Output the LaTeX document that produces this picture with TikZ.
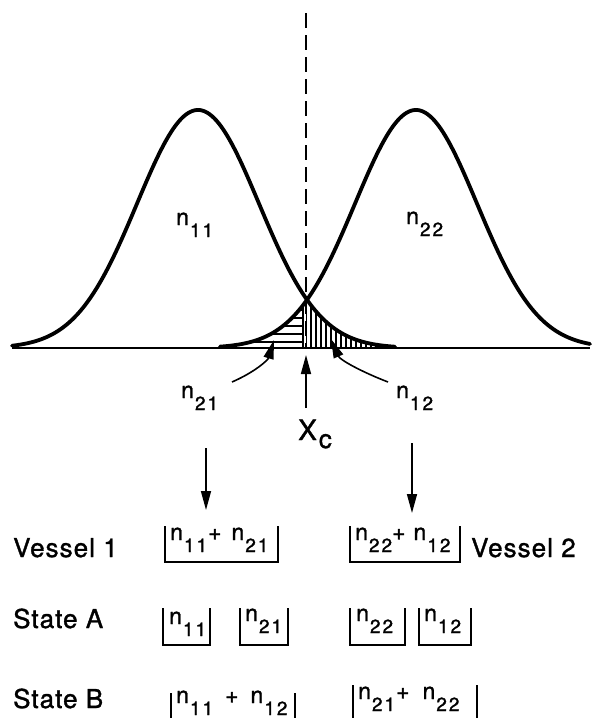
\documentclass[tikz,border=0pt]{standalone}
\usepackage{fontspec}
\setmainfont{TeX Gyre Heros}[FakeBold=1.3]
\usetikzlibrary{arrows.meta}
\def\digpair#1#2{#1\kern2pt#2}
\newcommand{\nlab}[1]{n\kern1pt\raisebox{-12pt}{\fontsize{19}{19}\selectfont\digpair#1}}
\newcommand{\xclab}{X\kern2pt\raisebox{-8pt}{\fontsize{26}{26}\selectfont c}}
\begin{document}
\begin{tikzpicture}[x=1pt,y=-1pt,
  curve/.style={line width=3.8pt,line join=round,line cap=round},
  base/.style={line width=2.6pt},
  hatch/.style={line width=1.2pt},
  arr/.style={line width=1.6pt,-{Triangle[length=19pt,width=10pt]}},
  bracket/.style={line width=2pt},
  lab/.style={inner sep=0pt,anchor=base west,font=\fontsize{23}{23}\selectfont},
  word/.style={inner sep=0pt,anchor=base west,font=\fontsize{26}{26}\selectfont\addfontfeature{LetterSpace=4}}]
\useasboundingbox (0,0) rectangle (601,720);
% hatching (behind curves)
\begin{scope}
  \clip plot[domain=215:306,samples=60] (\x,{348-238*exp(-0.5*((\x-416)/61)^2)}) -- (306,348) -- (215,348) -- cycle;
  \foreach \yy in {302,310,318,326,334,342}
    \draw[hatch] (200,\yy) -- (303,\yy);
  \draw[hatch] (303,290) -- (303,348);
\end{scope}
\begin{scope}
  \clip plot[domain=306:395,samples=60] (\x,{348-238*exp(-0.5*((\x-198)/61)^2)}) -- (395,348) -- (306,348) -- cycle;
  \foreach \xx in {306,311,...,395}
    \draw[hatch] (\xx,290) -- (\xx,348);
\end{scope}
% baseline
\draw[base] (12,348) -- (590,348);
% curves
\draw[curve] plot[domain=12:395,samples=160] (\x,{348-238*exp(-0.5*((\x-198)/61)^2)});
\draw[curve] plot[domain=220:590,samples=160] (\x,{348-238*exp(-0.5*((\x-416)/61)^2)});
% dashed line
\draw[line width=1.6pt,dash pattern=on 15pt off 7pt] (306,13) -- (306,348);
% curve labels
\node[lab] (n11) at (176,225) {\nlab{11}};
\node[lab] (n22) at (406,224) {\nlab{22}};
% lower labels
\node[lab] (l21) at (181,398) {\nlab{21}};
\node[lab] (l12) at (396,398) {\nlab{12}};
\node[lab,font=\fontsize{28}{28}\selectfont] (xc) at (298,440) {\xclab};
\coordinate (t21) at (274,340);
\coordinate (s21) at (232,382);
\coordinate (t12) at (331,339);
\coordinate (s12) at (388,382);
\coordinate (sx) at (306,408);
\coordinate (tx) at (306,355);
\draw[arr] (s21) .. controls (255,372) and (268,360) .. (t21);
\draw[arr] (s12) .. controls (362,372) and (340,360) .. (t12);
\draw[arr] (sx) -- (tx);
% down arrows
\coordinate (d1s) at (206,448);
\coordinate (d1t) at (206,510);
\coordinate (d2s) at (412,443);
\coordinate (d2t) at (412,513);
\draw[arr] (d1s) -- (d1t);
\draw[arr] (d2s) -- (d2t);
% Vessel row
\node[word] (v1) at (13,557) {Vessel 1};
\node[word] (v2) at (471,557) {Vessel 2};
\draw[bracket] (165,526) -- (165,562) -- (278,562) -- (278,526);
\draw[bracket] (350,526) -- (350,562) -- (460,562) -- (460,526);
\node[lab] (b1) at (170,540) {\nlab{11}\kern1pt+\kern10pt\nlab{21}};
\node[lab] (b2) at (355,540) {\nlab{22}\kern0pt+\kern8pt\nlab{12}};
% State A
\node[word] (sa) at (13,628) {State A};
\draw[bracket] (163,608) -- (163,645) -- (210,645) -- (210,608);
\draw[bracket] (240,608) -- (240,645) -- (288,645) -- (288,608);
\draw[bracket] (350,608) -- (350,645) -- (405,645) -- (405,608);
\draw[bracket] (419,608) -- (419,645) -- (471,645) -- (471,608);
\node[lab] (a11) at (169,624) {\nlab{11}};
\node[lab] (a21) at (245,621) {\nlab{21}};
\node[lab] (a22) at (356,621) {\nlab{22}};
\node[lab] (a12) at (424,621) {\nlab{12}};
% State B
\node[word] (sb) at (13,708) {State B};
\draw[bracket] (171,693) -- (171,718);
\draw[bracket] (295,693) -- (295,718);
\draw[bracket] (353,685) -- (353,718);
\draw[bracket] (477,685) -- (477,718);
\node[lab] (bb1) at (176,703) {\nlab{11}\kern12pt+\kern12pt\nlab{12}};
\node[lab] (bb2) at (358,699) {\nlab{21}\kern1pt+\kern13pt\nlab{22}};
\end{tikzpicture}
\end{document}
